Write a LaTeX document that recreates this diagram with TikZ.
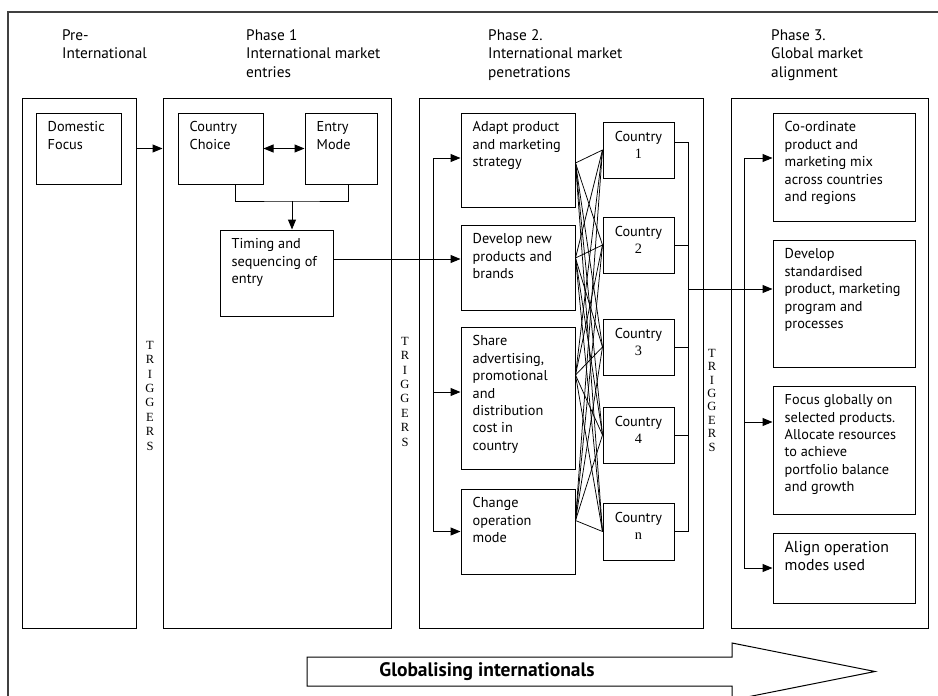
\documentclass[tikz,border=0pt]{standalone}
\usepackage{fontspec}
\setmainfont{PT Sans}
\newfontfamily\trigfont{Liberation Serif}
\usetikzlibrary{arrows.meta}

\tikzset{
  frame/.style={draw=black!75, line width=1.4pt},
  box/.style={draw, line width=1pt, inner sep=0pt},
  txt/.style={anchor=north west, inner sep=0pt, align=left, font=\fontsize{14.3}{17.4}\selectfont},
  ctxt/.style={anchor=north, inner sep=0pt, align=center, font=\fontsize{14.3}{17}\selectfont},
  head/.style={anchor=north west, inner sep=0pt, align=left, font=\fontsize{15.3}{18.5}\selectfont},
  trig/.style={anchor=north, inner sep=0pt, align=center, font=\trigfont\fontsize{12.5}{14.4}\selectfont},
  link/.style={line width=1pt},
  cross/.style={line width=0.75pt},
  arr/.style={line width=1pt, -{Triangle[length=10pt,width=8pt]}},
  darr/.style={line width=1pt, {Triangle[length=10pt,width=8pt]}-{Triangle[length=10pt,width=8pt]}},
}

% rectangle node given by its corners: [style]{x1}{y1}{x2}{y2}{name}
\newcommand\rectnode[6][box]{%
  \node[#1, minimum width={(#4-#2)*1pt}, minimum height={(#5-#3)*1pt}] (#6)
    at ({(#2+#4)/2},{(#3+#5)/2}) {};}
% text set inside the top left corner of a box
\newcommand\boxtext[3][txt]{%
  \node[#1] (#2-t) at ([shift={(12pt,-9pt)}]#2.north west) {#3};}

\begin{document}
\begin{tikzpicture}[x=1pt,y=-1pt]
\useasboundingbox (0,0) rectangle (938,696);
\clip (0,0) rectangle (938,696);
\fill[white] (0,0) rectangle (938,696);

% outer frame
\draw[frame] (8,12) rectangle (950,710);

% column headings
\node[head] (h0) at (62,29) {Pre-\\International};
\node[head] (h1) at (246,29) {Phase 1\\International market\\entries};
\node[head] (h2) at (488,29) {Phase 2.\\International market\\penetrations};
\node[head] (h3) at (771,29) {Phase 3.\\Global market\\alignment};

% phase columns
\rectnode{22}{98}{136}{628}{col0}
\rectnode{163}{98}{391}{628}{col1}
\rectnode{419}{98}{703}{628}{col2}
\rectnode{731}{98}{928}{628}{col3}

% pre-international and phase 1 boxes
\rectnode{36}{113}{121}{184}{dom}
\rectnode{178}{113}{263}{184}{cc}
\rectnode{305}{113}{377}{184}{em}
\rectnode{220}{230}{333}{316}{tim}
\boxtext{dom}{Domestic\\Focus}
\boxtext{cc}{Country\\Choice}
\boxtext{em}{Entry\\Mode}
\boxtext{tim}{Timing and\\sequencing of\\entry}

% phase 2 boxes
\rectnode{461}{113}{575}{207}{ad}
\rectnode{461}{225}{575}{310}{dv}
\rectnode{461}{327}{575}{469}{sh}
\rectnode{461}{489}{575}{574}{ch}
\boxtext{ad}{Adapt product\\and marketing\\strategy}
\boxtext{dv}{Develop new\\products and\\brands}
\boxtext{sh}{Share\\advertising,\\promotional\\and\\distribution\\cost in\\country}
\boxtext{ch}{Change\\operation\\mode}

% countries
\rectnode{603}{122}{674}{178}{c1}
\rectnode{603}{217}{674}{273}{c2}
\rectnode{603}{319}{674}{375}{c3}
\rectnode{603}{407}{674}{463}{c4}
\rectnode{603}{503}{674}{560}{cn}
\foreach \c/\n in {c1/1,c2/2,c3/3,c4/4,cn/n}
  \node[ctxt] (\c-t) at ([yshift=-10pt]\c.north) {Country\\{\trigfont\n}};

% phase 3 boxes
\rectnode{773}{113}{915}{221}{co}
\rectnode{773}{240}{915}{367}{ds}
\rectnode{773}{386}{915}{514}{fg}
\rectnode{773}{533}{915}{603}{al}
\boxtext{co}{Co-ordinate\\product and\\marketing mix\\across countries\\and regions}
\boxtext{ds}{Develop\\standardised\\product, marketing\\program and\\processes}
\boxtext{fg}{Focus globally on\\selected products.\\Allocate resources\\to achieve\\portfolio balance\\and growth}
\boxtext[txt, font=\fontsize{15.8}{17.7}\selectfont]{al}{Align operation\\modes used}

% triggers between the phases
\node[trig] (tr1) at (150,341) {T\\R\\I\\G\\G\\E\\R\\S};
\node[trig] (tr2) at (405,337) {T\\R\\I\\G\\G\\E\\R\\S};
\node[trig, font=\trigfont\fontsize{12.5}{13.4}\selectfont] (tr3) at (712,349) {T\\R\\I\\G\\G\\E\\R\\S};

% pre-international to phase 1
\draw[arr] (dom.east -| col0.east) -- (dom.east -| col1.west);
\draw[darr] (cc.east) -- (em.west);
\coordinate (jn) at (292,201);
\draw[link] ([xshift=14.5pt]cc.south) |- (jn) -| ([xshift=7pt]em.south);
\draw[arr] (jn) -- (jn |- tim.north);
\draw[arr] ([yshift=14pt]tim.east) -- ([yshift=14pt]tim.east -| dv.west);

% phase 2 distribution line
\coordinate (b2) at (433,158);
\draw[link] (b2) -- (b2 |- ch.west);
\draw[arr] (b2) -- (b2 -| ad.west);
\draw[arr] ([yshift=6pt]sh.west -| b2) -- ([yshift=6pt]sh.west);
\draw[arr] (b2 |- ch.west) -- (ch.west);

% every strategy linked with every country
\foreach \l/\s in {ad/-3, dv/9.5, sh/23, ch/11}
  \foreach \c in {c1,c2,c3,c4,cn}
    \draw[cross] ([yshift=\s*1pt]\l.east) -- (\c.west);

% countries gathered towards phase 3
\coordinate (b3) at (688,142);
\draw[link] ([yshift=8pt]c1.east) -- (b3);
\foreach \c in {c2,c3,c4,cn}
  \draw[link] (\c.east) -- (\c.east -| b3);
\draw[link] (b3) -- (b3 |- cn.east);
\draw[arr] ([yshift=14.5pt]ds.west -| b3) -- ([yshift=14.5pt]ds.west);

% phase 3 distribution line
\coordinate (b4) at (744,158);
\draw[link] (b4) -- (b4 |- al.west);
\draw[arr] (b4) -- (b4 -| co.west);
\draw[arr] ([yshift=28pt]fg.west -| b4) -- ([yshift=28pt]fg.west);
\draw[arr] (b4 |- al.west) -- (al.west);

% globalising arrow
\draw[line width=1pt] (307,657) -- (732,657) -- (732,643) -- (875,671.5)
  -- (732,700) -- (732,686) -- (307,686) -- cycle;
\node[font=\bfseries\fontsize{19.5}{22}\selectfont, inner sep=0pt] (glob) at (487,672) {Globalising internationals};
\end{tikzpicture}
\end{document}
